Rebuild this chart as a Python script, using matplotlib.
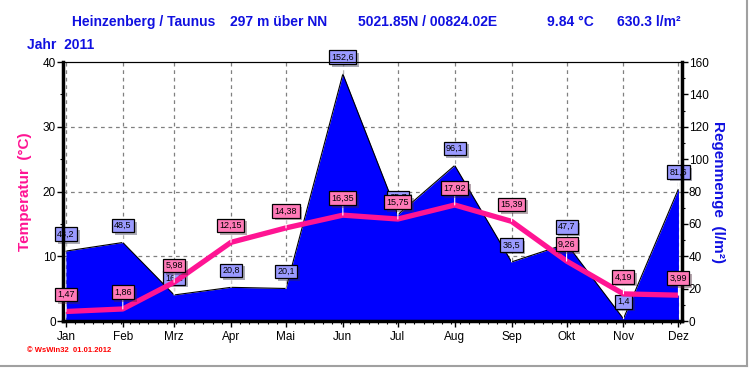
import matplotlib
matplotlib.use("Agg")
import matplotlib.pyplot as plt
import matplotlib.patheffects as pe
from matplotlib.lines import Line2D
import numpy as np

# month data 2011
months = ["Jan", "Feb", "Mrz", "Apr", "Mai", "Jun", "Jul", "Aug", "Sep", "Okt", "Nov", "Dez"]
month_day = [0, 31, 59, 90, 120, 151, 181, 212, 243, 273, 304, 334]
temperature = [1.47, 1.86, 5.98, 12.15, 14.38, 16.35, 15.75, 17.92, 15.39, 9.26, 4.19, 3.99]
rain = [43.2, 48.5, 16.1, 20.8, 20.1, 152.6, 65.7, 96.1, 36.5, 47.7, 1.4, 81.6]

BLUE = "#0000ff"
TXT_BLUE = "#1010e0"
PINK = "#ff1493"
FONT = ["Liberation Sans Narrow", "Liberation Sans", "DejaVu Sans"]

plt.rcParams["font.family"] = ["Liberation Sans", "DejaVu Sans"]

fig = plt.figure(figsize=(7.5, 3.7), dpi=100)
fig.patch.set_facecolor("white")

# rain on the base axes (drawn first), temperature on the twin (drawn on top)
ax = fig.add_axes([0.084, 0.1324, 0.825, 0.70])
ax2 = ax.twinx()

ax.fill_between(month_day, rain, 0, color=BLUE, linewidth=0, zorder=2)
ax.plot(month_day, rain, color="black", lw=0.8, zorder=3)
ax.set_ylim(0, 160)
ax.set_xlim(-1.6, 335.8)

ax2.plot(month_day, temperature, color=PINK, lw=3.8, solid_capstyle="butt", zorder=3)
ax2.set_ylim(0, 40)

# axis sides swapped: temperature on the left, rain on the right
ax.yaxis.tick_right()
ax.yaxis.set_label_position("right")
ax2.yaxis.tick_left()
ax2.yaxis.set_label_position("left")

ax.set_yticks(np.arange(0, 161, 20))
ax.set_yticks(np.arange(0, 161, 10), minor=True)
ax2.set_yticks(np.arange(0, 41, 10))
ax2.set_yticks(np.arange(0, 41, 5), minor=True)
ax.set_xticks(month_day)
ax.set_xticklabels(months)
ax.set_xticks(np.arange(0, 336, 5), minor=True)

# dashed grid behind the rain area
ax.set_axisbelow(True)
ax.grid(True, axis="x", which="major", color="#808080", linestyle=(0, (3, 3)), lw=0.9)
for v in (10, 20, 30):
    ax.axhline(v * 4, color="#808080", linestyle=(0, (3, 3)), lw=0.9, zorder=1)

for a in (ax, ax2):
    a.tick_params(which="major", length=4, width=1, labelsize=8.5, pad=1)
    a.tick_params(which="minor", length=2, width=0.8)
    for s in a.spines.values():
        s.set_linewidth(0.8)
ax2.spines["left"].set_linewidth(2.5)
ax2.spines["right"].set_linewidth(2.5)
ax2.spines["bottom"].set_linewidth(2.5)
ax.spines["left"].set_visible(False)
ax.spines["right"].set_visible(False)
ax.spines["bottom"].set_visible(False)
ax.tick_params(axis="x", pad=3)

ax2.set_ylabel("Temperatur  (°C)", color=PINK, fontsize=11, fontweight="bold", labelpad=8)
ax.set_ylabel("Regenmenge  (l/m²)", color=TXT_BLUE, fontsize=11, fontweight="bold",
              rotation=-90, labelpad=12)


def label(a, x, y, txt, color):
    t = a.annotate(txt, (x, y), xytext=(0, 9), textcoords="offset points",
                   ha="center", va="bottom", fontsize=6.5, color="black",
                   bbox=dict(boxstyle="square,pad=0.25", fc=color, ec="black", lw=0.9),
                   arrowprops=dict(arrowstyle="-", color="white", lw=0.8,
                                   shrinkA=0, shrinkB=0), zorder=6)
    t.get_bbox_patch().set_path_effects([pe.withSimplePatchShadow(offset=(2, -2), alpha=0.4)])


for d, r in zip(month_day, rain):
    label(ax, d, r, f"{r:.1f}".replace(".", ","), "#9a9aff")
for d, tv in zip(month_day, temperature):
    label(ax2, d, tv, f"{tv:.2f}".replace(".", ","), "#ff7ab8")

# header texts
head = [(72, "Heinzenberg / Taunus"), (230, "297 m über NN"), (358, "5021.85N / 00824.02E"),
        (547, "9.84 °C"), (617, "630.3 l/m²")]
for x, s in head:
    fig.text(x / 750, 1 - 22 / 370, s, color=TXT_BLUE, fontsize=10, fontweight="bold",
             family=FONT, va="center", ha="left")
fig.text(27 / 750, 1 - 45 / 370, "Jahr  2011", color=TXT_BLUE, fontsize=10,
         fontweight="bold", family=FONT, va="center")
fig.text(27 / 750, 1 - 351 / 370, "© WsWin32  01.01.2012", color="red", fontsize=5.5,
         fontweight="bold", va="center")

# grey frame at right and bottom
fig.add_artist(Line2D([0, 0.996], [0.011, 0.011], color="#a0a0a0", lw=1.5))
fig.add_artist(Line2D([0.996, 0.996], [0.011, 1], color="#a0a0a0", lw=1.5))

fig.savefig("out.png", dpi=100)
